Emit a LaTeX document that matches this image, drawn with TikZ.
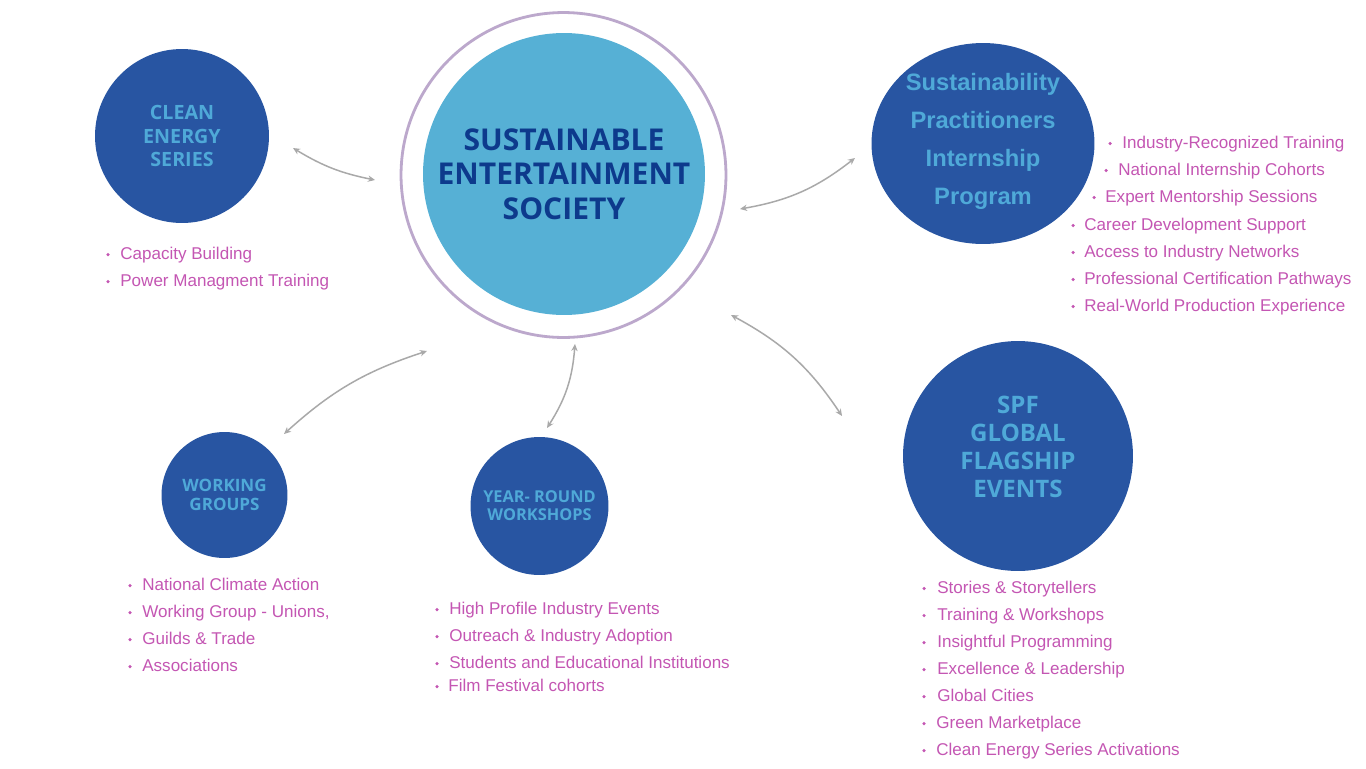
\documentclass[tikz,border=0pt]{standalone}
\usepackage{fontspec}
\setmainfont{Liberation Sans}
\newfontfamily\osans{Open Sans}
\usetikzlibrary{arrows.meta,shapes.geometric}
\definecolor{dblue}{HTML}{2855A2}
\definecolor{lblue}{HTML}{4FA9D8}
\definecolor{cfill}{HTML}{56B0D5}
\definecolor{ctext}{HTML}{0D3A8C}
\definecolor{ringc}{HTML}{BCA8CC}
\definecolor{pinktxt}{HTML}{C456B3}
\definecolor{arrgray}{HTML}{A9A9A9}
\newcommand\bitem[5]{%
  \fill[pinktxt] (#2,#4+1.5) circle[radius=0.035cm];
  \node[li] (#1) at (#3,#4+6) {#5};}
\begin{document}
\begin{tikzpicture}[x=0.02cm,y=-0.02cm,
  hub/.style={circle,fill=dblue,inner sep=0,text=lblue,align=center},
  li/.style={anchor=base west,text=pinktxt,inner sep=0,font=\fontsize{9.7}{11}\selectfont},
  link/.style={draw=arrgray,line width=0.85pt,{Stealth[length=4pt,width=3.6pt]}-{Stealth[length=4pt,width=3.6pt]}},
]
\useasboundingbox[fill=white] (0,0) rectangle (1366,768);

% central
\node[circle,draw=ringc,line width=1.6pt,minimum size=6.5cm,inner sep=0] (ring) at (563.5,175) {};
\node[circle,fill=cfill,minimum size=5.64cm,inner sep=0,text=ctext,align=center,
      font=\osans\bfseries\fontsize{17.1}{19.6}\selectfont] (ses) at (564,174)
      {SUSTAINABLE\\ENTERTAINMENT\\SOCIETY};

% satellites
\node[hub,minimum size=3.48cm,font=\osans\bfseries\fontsize{11.2}{13.4}\selectfont] (ces) at (182,136)
      {CLEAN\\ENERGY\\SERIES};
\node[ellipse,fill=dblue,inner sep=0,minimum width=4.46cm,minimum height=4.02cm] (spip) at (983,143.5) {};
\node[text=lblue,align=center,inner sep=0,font=\bfseries\fontsize{13.5}{21.6}\selectfont] (spipT) at (983,141)
      {Sustainability\\Practitioners\\Internship\\Program};
\node[hub,minimum size=2.52cm,font=\osans\bfseries\fontsize{9.7}{10.8}\selectfont] (wg) at (224.5,495)
      {WORKING\\GROUPS};
\node[hub,minimum size=2.76cm,font=\osans\bfseries\fontsize{9.3}{10.2}\selectfont] (ws) at (539.5,506)
      {YEAR- ROUND\\WORKSHOPS};
\node[hub,minimum size=4.6cm] (spf) at (1018,456) {};
\node[text=lblue,align=center,inner sep=0,font=\osans\bfseries\fontsize{13.7}{16}\selectfont] (spfT) at (1018,447)
      {SPF\\GLOBAL\\FLAGSHIP\\EVENTS};

% connectors
\coordinate (a1) at (293,148); \coordinate (a2) at (375,180);
\coordinate (b1) at (740,209); \coordinate (b2) at (855,158);
\coordinate (c1) at (284,434); \coordinate (c2) at (427,351);
\coordinate (d1) at (547,428); \coordinate (d2) at (575,344);
\coordinate (e1) at (731,315); \coordinate (e2) at (842,416);
\draw[link] (a1) to[bend right=10] (a2);
\draw[link] (b1) to[bend right=14] (b2);
\draw[link] (c1) to[bend left=12] (c2);
\draw[link] (d1) to[bend right=14] (d2);
\draw[link] (e1) to[bend left=14] (e2);

% lists
\bitem{l1}{108}{120}{253}{Capacity Building}
\bitem{l2}{108}{120}{280}{Power Managment Training}

\bitem{p1}{1110}{1122}{142}{Industry-Recognized Training}
\bitem{p2}{1106}{1118}{169}{National Internship Cohorts}
\bitem{p3}{1094}{1105}{196}{Expert Mentorship Sessions}
\bitem{p4}{1073}{1084}{224}{Career Development Support}
\bitem{p5}{1073}{1084}{251}{Access to Industry Networks}
\bitem{p6}{1073}{1084}{278}{Professional Certification Pathways}
\bitem{p7}{1073}{1084}{305}{Real-World Production Experience}

\bitem{w1}{130}{142}{584}{National Climate Action}
\bitem{w2}{130}{142}{611}{Working Group - Unions,}
\bitem{w3}{130}{142}{638}{Guilds \& Trade}
\bitem{w4}{130}{142}{665}{Associations}

\bitem{y1}{437}{449}{608}{High Profile Industry Events}
\bitem{y2}{437}{449}{635}{Outreach \& Industry Adoption}
\bitem{y3}{437}{449}{662}{Students and Educational Institutions}
\bitem{y4}{437}{448}{685}{Film Festival cohorts}

\bitem{s1}{924}{937}{587}{Stories \& Storytellers}
\bitem{s2}{924}{937}{614}{Training \& Workshops}
\bitem{s3}{924}{937}{641}{Insightful Programming}
\bitem{s4}{924}{937}{668}{Excellence \& Leadership}
\bitem{s5}{924}{937}{695}{Global Cities}
\bitem{s6}{924}{936}{722}{Green Marketplace}
\bitem{s7}{924}{936}{749}{Clean Energy Series Activations}
\end{tikzpicture}
\end{document}
